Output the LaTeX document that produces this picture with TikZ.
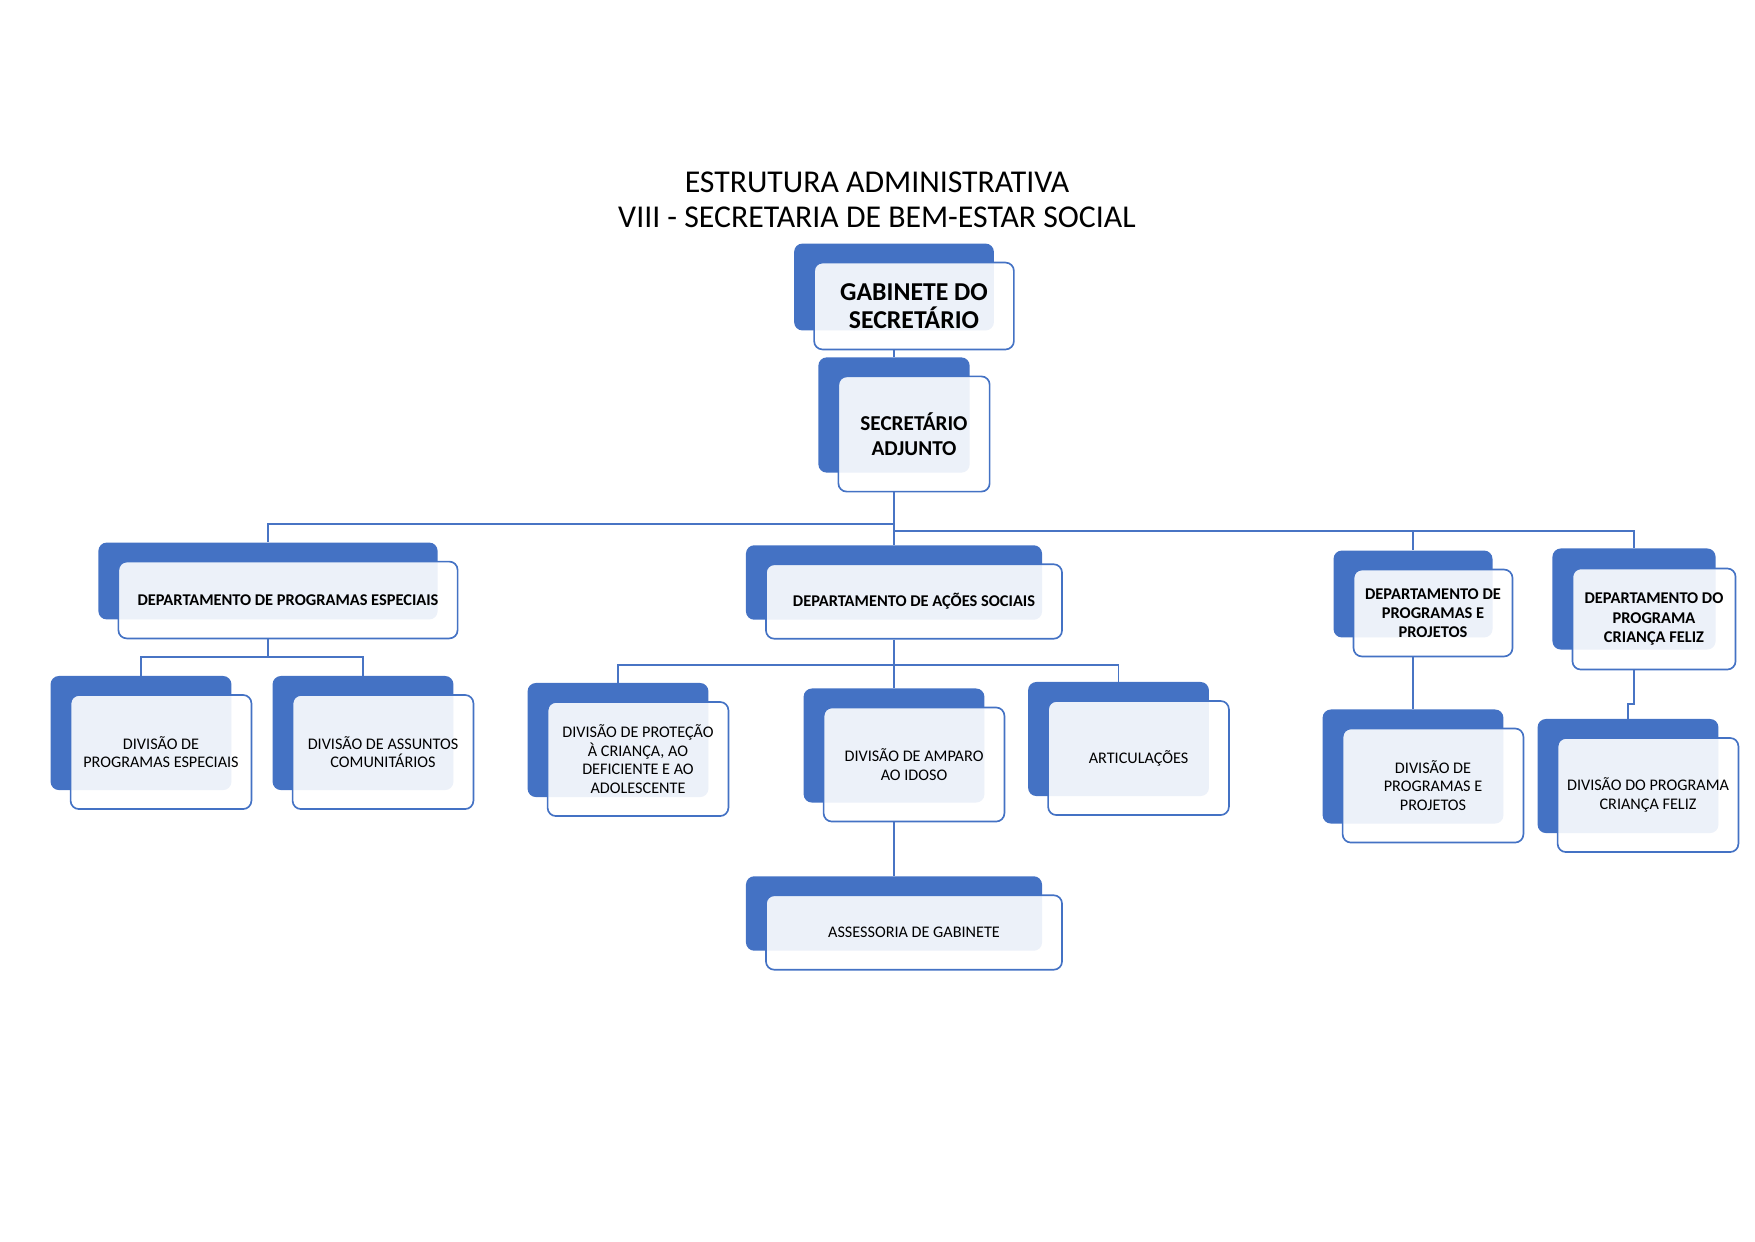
\documentclass[tikz,border=0pt]{standalone}
\usepackage{fontspec}
\setmainfont{Carlito}
\usepackage{xcolor}
\definecolor{orgblue}{RGB}{68,114,196}
\definecolor{orgline}{RGB}{72,116,196}
\usetikzlibrary{positioning,calc}

\tikzset{
  backbox/.style={fill=orgblue,draw=none,rounded corners=4pt,inner sep=0pt},
  frontbox/.style={draw=orgblue,line width=0.8pt,fill=white,fill opacity=0.9,
                   text opacity=1,text=black,rounded corners=4pt,align=center,inner sep=2pt},
  gabsize/.style={minimum width=3.38cm,minimum height=1.47cm},
  secsize/.style={minimum width=2.56cm,minimum height=1.95cm},
  dpesize/.style={minimum width=5.74cm,minimum height=1.30cm},
  dassize/.style={minimum width=5.01cm,minimum height=1.26cm},
  dppsize/.style={minimum width=2.69cm,minimum height=1.47cm},
  dcfsize/.style={minimum width=2.76cm,minimum height=1.71cm},
  divsize/.style={minimum width=3.06cm,minimum height=1.93cm},
  deptfont/.style={font=\fontsize{7.9}{9.2}\selectfont\bfseries},
  divfont/.style={font=\fontsize{7.8}{9}\selectfont},
  link/.style={draw=orgline,line width=0.8pt}
}

\begin{document}
\begin{tikzpicture}[x=0.016923cm,y=-0.016923cm]
  \useasboundingbox (0,0) rectangle (1755,1241);

  % title
  \node[align=center,font=\fontsize{15.3}{16.8}\selectfont] (title) at (877,200)
        {ESTRUTURA ADMINISTRATIVA\\VIII - SECRETARIA DE BEM-ESTAR SOCIAL};

  % top of the chart
  \node[backbox,gabsize] (gabb) at (894,287) {};
  \node[frontbox,gabsize,font=\fontsize{12.4}{13.4}\selectfont\bfseries]
        (gab) at ($(gabb)+(20,19)$) {GABINETE DO\\SECRETÁRIO};
  \node[backbox,secsize] (secb) at (894,415) {};
  \node[frontbox,secsize,font=\fontsize{10.2}{11.8}\selectfont\bfseries]
        (sec) at ($(secb)+(20,19)$) {SECRETÁRIO\\ADJUNTO};

  % departments
  \node[backbox,dpesize] (dpeb) at (268,581) {};
  \node[frontbox,dpesize,deptfont] (dpe) at ($(dpeb)+(20,19)$) {DEPARTAMENTO DE PROGRAMAS ESPECIAIS};
  \node[backbox,dassize] (dasb) at (894,582.5) {};
  \node[frontbox,dassize,deptfont] (das) at ($(dasb)+(20,19)$) {DEPARTAMENTO DE AÇÕES SOCIAIS};
  \node[backbox,dppsize] (dppb) at (1413,594) {};
  \node[frontbox,dppsize,deptfont] (dpp) at ($(dppb)+(20,19)$) {DEPARTAMENTO DE\\PROGRAMAS E\\PROJETOS};
  \node[backbox,dcfsize] (dcfb) at (1634,599) {};
  \node[frontbox,dcfsize,deptfont] (dcf) at ($(dcfb)+(20,20)$) {DEPARTAMENTO DO\\PROGRAMA\\CRIANÇA FELIZ};

  % divisions
  \node[backbox,divsize] (dpe1b) at (141,733) {};
  \node[frontbox,divsize,divfont] (dpe1) at ($(dpe1b)+(20,19)$) {DIVISÃO DE\\PROGRAMAS ESPECIAIS};
  \node[backbox,divsize] (dpe2b) at (363,733) {};
  \node[frontbox,divsize,divfont] (dpe2) at ($(dpe2b)+(20,19)$) {DIVISÃO DE ASSUNTOS\\COMUNITÁRIOS};
  \node[backbox,divsize] (das1b) at (618,740) {};
  \node[frontbox,divsize,divfont] (das1) at ($(das1b)+(20,19)$) {DIVISÃO DE PROTEÇÃO\\À CRIANÇA, AO\\DEFICIENTE E AO\\ADOLESCENTE};
  \node[backbox,divsize] (das2b) at (894,745.5) {};
  \node[frontbox,divsize,divfont] (das2) at ($(das2b)+(20,19)$) {DIVISÃO DE AMPARO\\AO IDOSO};
  \node[backbox,divsize] (das3b) at (1118.5,739) {};
  \node[frontbox,divsize,divfont] (das3) at ($(das3b)+(20,19)$) {ARTICULAÇÕES};
  \node[backbox,dassize] (assb) at (894,913.5) {};
  \node[frontbox,dassize,divfont] (ass) at ($(assb)+(20,19)$) {ASSESSORIA DE GABINETE};
  \node[backbox,divsize] (dpp1b) at (1413,766.5) {};
  \node[frontbox,divsize,divfont] (dpp1) at ($(dpp1b)+(20,19)$) {DIVISÃO DE\\PROGRAMAS E\\PROJETOS};
  \node[backbox,divsize] (dcf1b) at (1628,776) {};
  \node[frontbox,divsize,divfont] (dcf1) at ($(dcf1b)+(20,19)$) {DIVISÃO DO PROGRAMA\\CRIANÇA FELIZ};

  % connectors
  \coordinate (busl) at (0,524);
  \coordinate (busr) at (0,531);
  \coordinate (busdpe) at (0,657);
  \coordinate (busdas) at (0,665);
  \coordinate (jog) at (0,704);
  \draw[link] (secb |- gab.south) -- (secb.north);
  \draw[link] (secb |- sec.south) -- (secb |- busl) -| (dpeb.north);
  \draw[link] (secb |- busl) -- (dasb.north);
  \draw[link] (secb |- busr) -| (dcfb.north);
  \draw[link] (dppb |- busr) -- (dppb.north);
  \draw[link] (dpeb |- dpe.south) -- (dpeb |- busdpe) -| (dpe1b.north);
  \draw[link] (dpeb |- busdpe) -| (dpe2b.north);
  \draw[link] (dasb |- das.south) -- (das2b.north);
  \draw[link] (das1b.north) |- (dasb |- busdas) -| (das3b.north);
  \draw[link] (das2b |- das2.south) -- (assb.north);
  \draw[link] (dppb |- dpp.south) -- (dpp1b.north);
  \draw[link] (dcfb |- dcf.south) -- (dcfb |- jog) -| (dcf1b.north);
\end{tikzpicture}
\end{document}
